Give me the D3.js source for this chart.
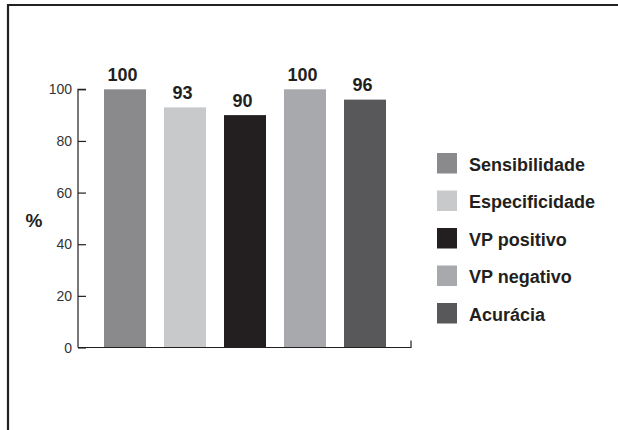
<!DOCTYPE html>
<html>
<head>
<meta charset="utf-8">
<script src="https://cdn.jsdelivr.net/npm/d3@7"></script>
<style>
html,body{margin:0;padding:0;background:#fff;}
svg{display:block;font-family:"Liberation Sans",Arial,sans-serif;}
</style>
</head>
<body>
<svg id="chart" width="618" height="430"></svg>
<script>
const categories = ["Sensibilidade", "Especificidade", "VP positivo", "VP negativo", "Acurácia"];
const values = [100, 93, 90, 100, 96];
const colors = ["#8a8a8d", "#c8c9cb", "#231f20", "#a8a9ac", "#58585a"];
const yTicks = [0, 20, 40, 60, 80, 100];
const yLabel = "%";

const svg = d3.select("#chart");

// frame
svg.append("line").attr("x1", 8).attr("x2", 618).attr("y1", 5).attr("y2", 5)
  .attr("stroke", "#222").attr("stroke-width", 2.2);
svg.append("line").attr("x1", 8).attr("x2", 8).attr("y1", 4).attr("y2", 430)
  .attr("stroke", "#222").attr("stroke-width", 2.2);

const x = d3.scaleBand().domain(categories).range([95, 395])
  .paddingInner(0.3).paddingOuter(0.15);
const y = d3.scaleLinear().domain([0, 100]).range([347.5, 89.3]);

// bars
svg.selectAll("rect.bar").data(categories).enter().append("rect")
  .attr("class", "bar")
  .attr("x", d => x(d))
  .attr("width", x.bandwidth())
  .attr("y", (d, i) => y(values[i]))
  .attr("height", (d, i) => y(0) - y(values[i]))
  .attr("fill", (d, i) => colors[i]);

// value labels
svg.selectAll("text.val").data(categories).enter().append("text")
  .attr("class", "val")
  .attr("x", d => x(d) + x.bandwidth() / 2 - 2.5)
  .attr("y", (d, i) => y(values[i]) - 8.5)
  .attr("text-anchor", "middle")
  .attr("font-size", 18).attr("font-weight", "bold").attr("fill", "#231f20")
  .text((d, i) => values[i]);

// y axis (inward ticks)
const yAxis = d3.axisRight(y).tickValues(yTicks).tickSize(8).tickFormat("");
const gy = svg.append("g").attr("transform", "translate(78,0)").call(yAxis);
gy.select(".domain").attr("stroke", "#231f20").attr("stroke-width", 1.2)
  .attr("d", `M8,${y(100)}H0V${y(0)}`);
gy.selectAll(".tick line").attr("stroke", "#231f20").attr("stroke-width", 1.2);

svg.selectAll("text.ytick").data(yTicks).enter().append("text")
  .attr("class", "ytick")
  .attr("x", 72).attr("y", d => y(d)).attr("dy", "0.36em")
  .attr("text-anchor", "end").attr("font-size", 14).attr("fill", "#333")
  .text(d => d);

// x axis baseline with end tick
const xAxis = d3.axisTop(d3.scaleLinear().range([78, 411])).tickValues([]).tickSizeOuter(7);
const gx = svg.append("g").attr("transform", `translate(0,${y(0)})`).call(xAxis);
gx.select(".domain").attr("stroke", "#231f20").attr("stroke-width", 1.2)
  .attr("d", `M78,0H411V-7`);

// y label
svg.append("text").attr("x", 34).attr("y", 227).attr("text-anchor", "middle")
  .attr("font-size", 19).attr("font-weight", "bold").attr("fill", "#231f20").text(yLabel);

// legend
const leg = svg.selectAll("g.leg").data(categories).enter().append("g")
  .attr("class", "leg")
  .attr("transform", (d, i) => `translate(437,${153 + i * 37.5})`);
leg.append("rect").attr("width", 20).attr("height", 20.5).attr("fill", (d, i) => colors[i]);
leg.append("text").attr("x", 32).attr("y", 17.5)
  .attr("font-size", 18).attr("font-weight", "bold").attr("fill", "#231f20")
  .text(d => d);
</script>
</body>
</html>
